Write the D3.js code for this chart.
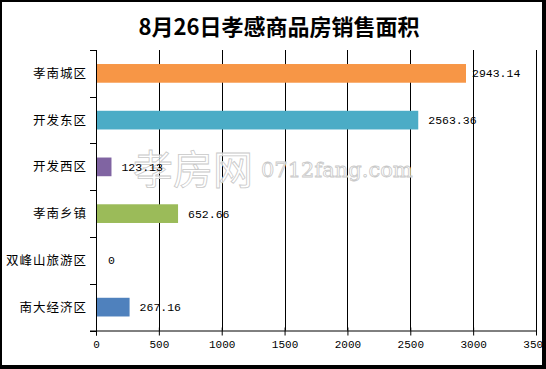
<!DOCTYPE html>
<meta charset="utf-8">
<script src="https://cdn.jsdelivr.net/npm/d3@7"></script>
<style>
  body { margin: 0; background: #fff; }
</style>
<div id="chart"></div>
<script>

// data
var categories = ["孝南城区", "开发东区", "开发西区", "孝南乡镇", "双峰山旅游区", "南大经济区"]
var areas = [2943.14, 2563.36, 123.13, 652.66, 0, 267.16]
var areaLabels = ["2943.14", "2563.36", "123.13", "652.66", "0", "267.16"]
var colors = ["#F79646", "#4BACC6", "#8064A2", "#9BBB59", "#4F81BD", "#4F81BD"]
var xTicks = [0, 500, 1000, 1500, 2000, 2500, 3000, 3500]

var width = 546, height = 369
var plotLeft = 96, plotRight = 536, plotTop = 50, plotBottom = 330.5

var svg = d3.select("#chart").append("svg")
  .attr("width", width)
  .attr("height", height)
  .style("display", "block")

svg.append("rect").attr("width", width).attr("height", height).attr("fill", "#fff")

// title
svg.append("text")
  .attr("x", 279).attr("y", 35)
  .attr("text-anchor", "middle")
  .style("font-family", "'Noto Sans CJK SC', sans-serif")
  .style("font-weight", "bold")
  .style("font-size", "22px")
  .text("8月26日孝感商品房销售面积")

var x = d3.scaleLinear().domain([0, 3500]).range([plotLeft, plotRight])
var y = d3.scaleBand().domain(categories).range([plotTop, plotBottom])
  .paddingInner(0.6).paddingOuter(0.3)

// vertical grid lines
svg.append("g")
  .selectAll("line")
  .data(xTicks.slice(1))
  .enter().append("line")
    .attr("x1", function(d){ return Math.round(x(d)) + 0.5 })
    .attr("x2", function(d){ return Math.round(x(d)) + 0.5 })
    .attr("y1", plotTop).attr("y2", plotBottom)
    .attr("stroke", "#000")

// watermark (hollow grey letters)
var wm = svg.append("g").attr("fill", "#fff").attr("fill-opacity", 0.8)
  .attr("stroke", "#c8c8c8").attr("stroke-width", 0.8)
wm.append("text")
  .attr("x", 133).attr("y", 184)
  .style("font-family", "'Noto Sans CJK SC', sans-serif")
  .style("font-size", "40px")
  .text("孝房网")
wm.append("text")
  .attr("x", 261).attr("y", 177)
  .style("font-family", "'DejaVu Serif', serif")
  .style("font-size", "21px")
  .text("0712fang.com")

// bars
svg.append("g")
  .selectAll("rect")
  .data(areas)
  .enter().append("rect")
    .attr("x", x(0))
    .attr("y", function(d, i){ return y(categories[i]) })
    .attr("width", function(d){ return x(d) - x(0) })
    .attr("height", y.bandwidth())
    .attr("fill", function(d, i){ return colors[i] })

// value labels
svg.append("g")
  .selectAll("text")
  .data(areas)
  .enter().append("text")
    .attr("x", function(d){ return x(d) + (d > 2800 ? 6 : (d > 0 ? 10 : 12)) })
    .attr("y", function(d, i){ return y(categories[i]) + y.bandwidth() / 2 })
    .attr("dy", "0.35em")
    .style("font-family", "'Liberation Mono', monospace")
    .style("font-size", "11.5px")
    .text(function(d, i){ return areaLabels[i] })

// axes
var xAxis = svg.append("g")
  .attr("transform", "translate(0," + plotBottom + ")")
  .call(d3.axisBottom(x).tickValues(xTicks).tickFormat(d3.format("d"))
    .tickSizeInner(5).tickSizeOuter(0).tickPadding(5))
xAxis.select(".domain").attr("d", "M" + (plotLeft - 6) + ",0.5H" + plotRight)
xAxis.selectAll(".tick line").attr("y1", -3)
xAxis.selectAll("text")
  .style("font-family", "'Liberation Mono', monospace")
  .style("font-size", "11px")
  .attr("fill", "#000")

var yEdges = categories.map(function(c){ return y(c) - y.step() * y.paddingInner() / 2 })
yEdges.push(plotBottom)
var yAxis = svg.append("g")
yAxis.append("line")
  .attr("x1", plotLeft + 0.5).attr("x2", plotLeft + 0.5)
  .attr("y1", plotTop).attr("y2", plotBottom + 5)
  .attr("stroke", "#000")
yAxis.selectAll(".tk")
  .data(yEdges)
  .enter().append("line")
    .attr("class", "tk")
    .attr("x1", plotLeft - 6).attr("x2", plotLeft)
    .attr("y1", function(d){ return Math.round(d) + 0.5 })
    .attr("y2", function(d){ return Math.round(d) + 0.5 })
    .attr("stroke", "#000")
yAxis.selectAll(".cat")
  .data(categories)
  .enter().append("text")
    .attr("class", "cat")
    .attr("x", 87)
    .attr("y", function(d){ return y(d) + y.bandwidth() / 2 })
    .attr("dy", "0.35em")
    .attr("text-anchor", "end")
    .attr("letter-spacing", 1)
    .style("font-family", "'Noto Sans CJK SC', sans-serif")
    .style("font-size", "12.5px")
    .text(function(d){ return d })

// outer frame
svg.append("rect")
  .attr("x", 1).attr("y", 1)
  .attr("width", width - 4).attr("height", height - 4)
  .attr("fill", "none").attr("stroke", "#000").attr("stroke-width", 2)
svg.append("rect").attr("x", width - 3).attr("y", 0).attr("width", 3).attr("height", height).attr("fill", "#000")
svg.append("rect").attr("x", 0).attr("y", height - 3).attr("width", width).attr("height", 3).attr("fill", "#000")

</script>
